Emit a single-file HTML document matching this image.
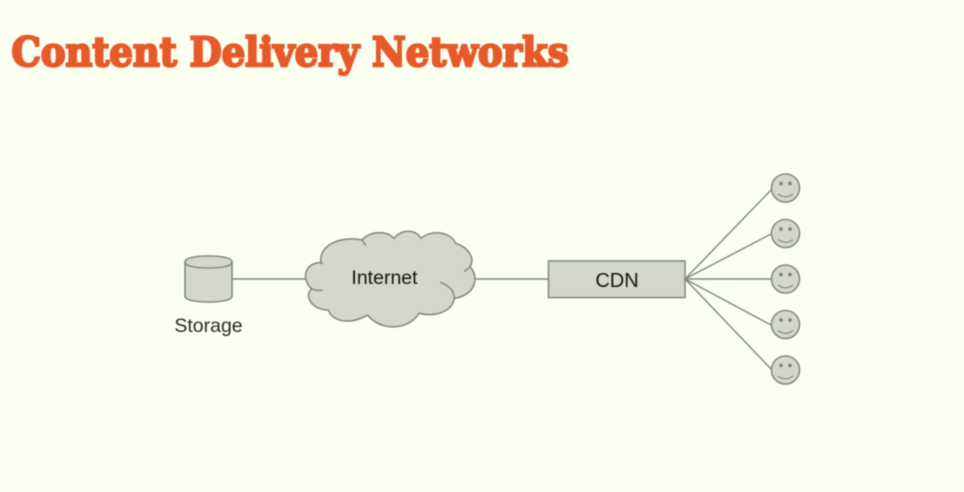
<!DOCTYPE html>
<html>
<head>
<meta charset="utf-8">
<style>
html,body{margin:0;padding:0;background:#faffef;}
body{width:964px;height:492px;overflow:hidden;}
svg{display:block;}
</style>
</head>
<body>
<svg width="964" height="492" viewBox="0 0 964 492" xmlns="http://www.w3.org/2000/svg">
<defs><filter id="b" x="-5%" y="-5%" width="110%" height="110%"><feGaussianBlur stdDeviation="0.4"/></filter></defs>
<rect width="964" height="492" fill="#faffef"/>
<text x="11.500" y="66" font-family="'DejaVu Serif',serif" font-weight="700" font-size="40" fill="#e65a2b" stroke="#e65a2b" stroke-width="2.400" textLength="557" lengthAdjust="spacingAndGlyphs" filter="url(#b)">Content Delivery Networks</text>
<g filter="url(#b)" stroke="#82877a" fill="none" stroke-width="1.400">
<line x1="232" y1="279" x2="306" y2="279"/>
<line x1="475" y1="279" x2="549" y2="279"/>
<line x1="685" y1="279" x2="772" y2="189"/>
<line x1="685" y1="279" x2="771" y2="234"/>
<line x1="685" y1="279" x2="771" y2="279"/>
<line x1="685" y1="279" x2="771" y2="325"/>
<line x1="685" y1="279" x2="772" y2="370"/>
<g fill="#d4d8ca" stroke-width="1.600">
<path d="M185 262V296C185 300 195 302 208.500 302C222 302 232 300 232 296V262C232 258 222 256 208.500 256C195 256 185 258 185 262Z"/>
<path d="M185 262C185 266 195 268 208.500 268C222 268 232 266 232 262" fill="none"/>
<path d="M321 262.700C318 243 345 236 361.700 240C372 230 387 231 394 238.300C402 229 415 229 421 238.300C433 229 450 232 455.700 243.300C469 248 475 258 470 266.700C480 278 475 295 454.300 298.300C452 312 435 317 419 313.300C408 331 380 331 367.700 315C350 325 333 322 328.300 310C311 310 304 295 311.700 289C300 278 306 262 321 262.700Z"/>
<path d="M361.700 240Q364 242 365.700 245.700M470 266.700Q467 270 464 271.700M454.300 298.300C454 290 448 285 440 282.300M311.700 289Q317 291 323 290M321 262.700L323 264" fill="none"/>
<rect x="548.500" y="261" width="136.500" height="36.500"/>
<circle cx="785.500" cy="188" r="14"/>
<circle cx="785.500" cy="233.500" r="14"/>
<circle cx="785.500" cy="279" r="14"/>
<circle cx="785.500" cy="324.500" r="14"/>
<circle cx="785.500" cy="370" r="14"/>
</g>
<g stroke-width="1.300">
<path d="M778 194Q785.500 199.500 793 194"/>
<path d="M778 239.500Q785.500 245 793 239.500"/>
<path d="M778 285Q785.500 290.500 793 285"/>
<path d="M778 330.500Q785.500 336 793 330.500"/>
<path d="M778 376Q785.500 381.500 793 376"/>
</g>
<g fill="#82877a" stroke="none">
<circle cx="781" cy="183.500" r="2"/><circle cx="790" cy="183.500" r="2"/>
<circle cx="781" cy="229" r="2"/><circle cx="790" cy="229" r="2"/>
<circle cx="781" cy="274.500" r="2"/><circle cx="790" cy="274.500" r="2"/>
<circle cx="781" cy="320" r="2"/><circle cx="790" cy="320" r="2"/>
<circle cx="781" cy="365.500" r="2"/><circle cx="790" cy="365.500" r="2"/>
</g>
</g>
<g font-family="'Liberation Sans',sans-serif" font-size="19.500" fill="#161614" text-anchor="middle" filter="url(#b)">
<text x="384.500" y="284">Internet</text>
<text x="617" y="287" font-size="20">CDN</text>
<text x="208.500" y="332" fill="#2a2a28">Storage</text>
</g>
</svg>
</body>
</html>
